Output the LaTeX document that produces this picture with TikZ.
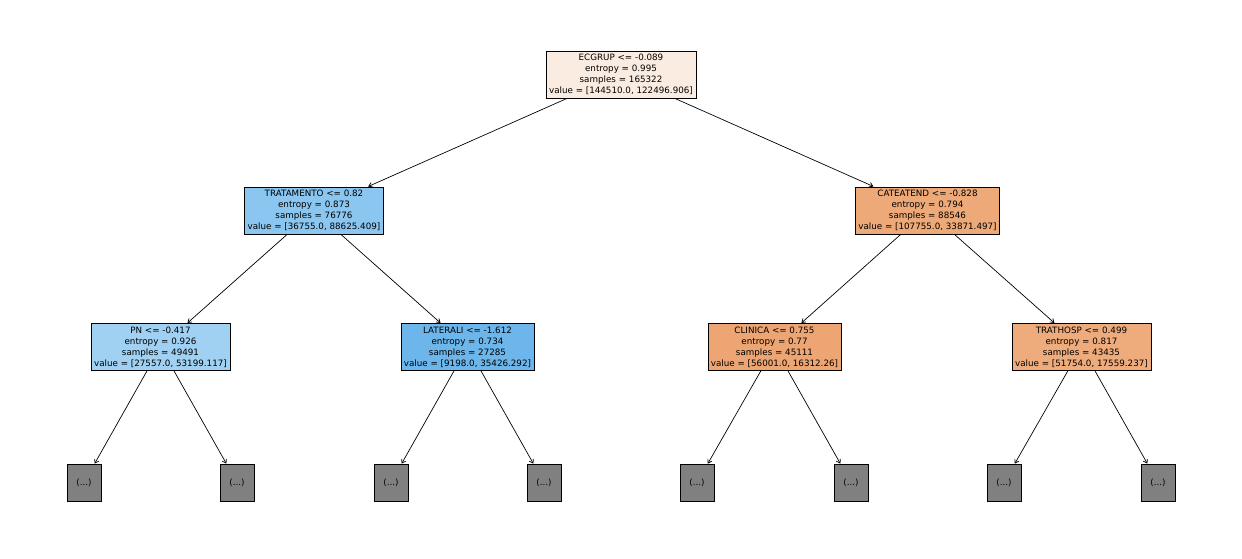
\documentclass[tikz,border=0pt]{standalone}
\usepackage{fontspec}
\setmainfont{DejaVu Sans}
\usetikzlibrary{arrows.meta,positioning}
\definecolor{ink}{HTML}{000000}
\definecolor{rootbg}{HTML}{FBECE1}
\definecolor{tratbg}{HTML}{8BC6F0}
\definecolor{catebg}{HTML}{EDA977}
\definecolor{pnbg}{HTML}{A0D0F2}
\definecolor{latbg}{HTML}{6CB6EC}
\definecolor{clinbg}{HTML}{EDA673}
\definecolor{thospbg}{HTML}{EEAC7C}
\definecolor{leafbg}{HTML}{808080}
\tikzset{
  splitbox/.style={
    draw=ink, line width=0.55pt, rectangle, align=center,
    inner xsep=2.2pt, inner ysep=2.4pt,
    font=\fontsize{6.3}{7.9}\selectfont
  },
  leafbox/.style={
    draw=ink, fill=leafbg, line width=0.55pt, rectangle,
    minimum width=24.5pt, minimum height=26.6pt, inner sep=0pt,
    font=\fontsize{6.3}{7.9}\selectfont
  },
  edge/.style={-{Straight Barb[length=2.6pt,width=3.4pt]}, line width=0.5pt, draw=ink}
}
\begin{document}
\begin{tikzpicture}[x=0.72pt,y=-0.72pt]
  \useasboundingbox (0,0) rectangle (1242,558);
  % splits
  \node[splitbox,fill=rootbg] (ecgrup) at (621,74.5)
    {ECGRUP <= -0.089\\entropy = 0.995\\samples = 165322\\value = [144510.0, 122496.906]};
  \node[splitbox,fill=tratbg] (trat) at (314,210.5)
    {TRATAMENTO <= 0.82\\entropy = 0.873\\samples = 76776\\value = [36755.0, 88625.409]};
  \node[splitbox,fill=catebg] (cate) at (927.5,210.5)
    {CATEATEND <= -0.828\\entropy = 0.794\\samples = 88546\\value = [107755.0, 33871.497]};
  \node[splitbox,fill=pnbg] (pn) at (160.5,347)
    {PN <= -0.417\\entropy = 0.926\\samples = 49491\\value = [27557.0, 53199.117]};
  \node[splitbox,fill=latbg] (lat) at (467.5,347)
    {LATERALI <= -1.612\\entropy = 0.734\\samples = 27285\\value = [9198.0, 35426.292]};
  \node[splitbox,fill=clinbg] (clin) at (774.5,347)
    {CLINICA <= 0.755\\entropy = 0.77\\samples = 45111\\value = [56001.0, 16312.26]};
  \node[splitbox,fill=thospbg] (thosp) at (1081.5,347)
    {TRATHOSP <= 0.499\\entropy = 0.817\\samples = 43435\\value = [51754.0, 17559.237]};
  % truncated leaves
  \foreach \i/\x in {1/84,2/237,3/391,4/544,5/697,6/851,7/1004,8/1158}
    \node[leafbox] (leaf\i) at (\x,482.5) {(...)};
  % edges
  \draw[edge] (ecgrup) -- (trat);
  \draw[edge] (ecgrup) -- (cate);
  \draw[edge] (trat) -- (pn);
  \draw[edge] (trat) -- (lat);
  \draw[edge] (cate) -- (clin);
  \draw[edge] (cate) -- (thosp);
  \draw[edge] (pn) -- (leaf1);
  \draw[edge] (pn) -- (leaf2);
  \draw[edge] (lat) -- (leaf3);
  \draw[edge] (lat) -- (leaf4);
  \draw[edge] (clin) -- (leaf5);
  \draw[edge] (clin) -- (leaf6);
  \draw[edge] (thosp) -- (leaf7);
  \draw[edge] (thosp) -- (leaf8);
\end{tikzpicture}
\end{document}
